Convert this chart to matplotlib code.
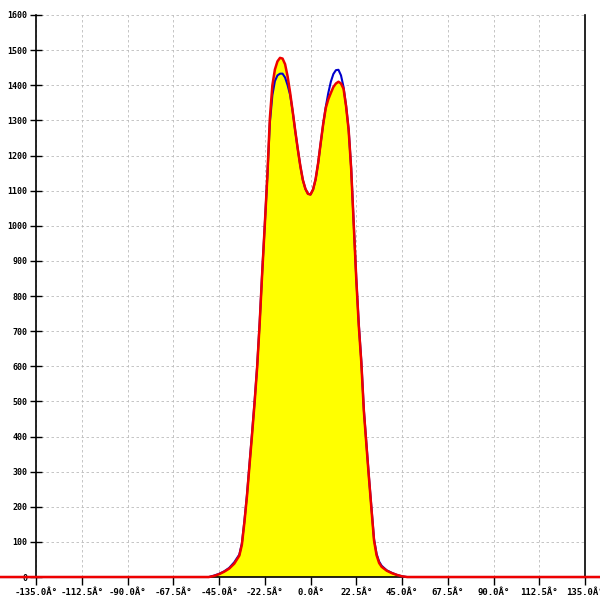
import matplotlib.pyplot as plt

# angle in degrees
angles = [-160, -50, -47.5, -45, -42.5, -40, -37.5,
          -35, -33.75, -32.5, -31.25, -30, -28.75, -27.5, -26.25, -25, -23.75,
          -22.5, -21.25, -20, -18.75, -17.5, -16.25, -15, -13.75, -12.5, -11.25,
          -10, -8.75, -7.5, -6.25, -5, -3.75, -2.5, -1.25, 0, 1.25,
          2.5, 3.75, 5, 6.25, 7.5, 8.75, 10, 11.25, 12.5, 13.75,
          15, 16.25, 17.5, 18.75, 20, 21.25, 22.5, 23.75, 25, 26.25,
          27.5, 28.75, 30, 31.25, 32.5, 33.75, 35,
          37.5, 40, 42.5, 45, 47.5, 50, 160]

blue_vals = [0, 0, 4, 9, 16, 26, 42,
             64, 96, 160, 234, 322, 410, 500, 600, 725, 870,
             1002, 1138, 1292, 1372, 1412, 1428, 1433, 1433, 1422, 1400,
             1372, 1325, 1270, 1218, 1170, 1130, 1105, 1091, 1089, 1103,
             1132, 1178, 1235, 1290, 1338, 1378, 1410, 1432, 1443, 1444,
             1428, 1395, 1342, 1275, 1165, 1008, 852, 720, 614, 476,
             380, 285, 196, 108, 66, 44, 32,
             19, 12, 6, 2, 0, 0, 0]

red_vals = [0, 0, 3, 8, 15, 24, 38,
            61, 92, 156, 230, 318, 405, 496, 596, 722, 866,
            1000, 1138, 1305, 1400, 1445, 1468, 1478, 1476, 1460, 1425,
            1378, 1325, 1270, 1218, 1170, 1130, 1105, 1091, 1089, 1103,
            1132, 1178, 1235, 1290, 1335, 1360, 1378, 1395, 1405, 1410,
            1405, 1390, 1340, 1273, 1162, 1005, 850, 715, 610, 472,
            376, 282, 192, 104, 62, 40, 29,
            18, 11, 6, 2, 0, 0, 0]

xticks = [-135, -112.5, -90, -67.5, -45, -22.5, 0, 22.5, 45, 67.5, 90, 112.5, 135]
xtick_labels = ["%.1f\u00c2\u00b0" % t for t in xticks]
yticks = list(range(0, 1700, 100))

fig = plt.figure(figsize=(6, 6), dpi=100)
ax = fig.add_axes([0.06, 0.0383, 0.915, 0.9367])

ax.fill_between(angles, red_vals, color='#ffff00', linewidth=0, zorder=1)
ax.plot(angles, blue_vals, color='#0000cc', linewidth=1.5, zorder=3, clip_on=False)
ax.plot(angles, red_vals, color='#ee0000', linewidth=1.8, zorder=4, clip_on=False)

ax.set_xlim(-135, 135)
ax.set_ylim(0, 1600)
ax.set_xticks(xticks)
ax.set_xticklabels(xtick_labels, fontfamily='DejaVu Sans Mono', fontsize=6.5,
                   fontweight='bold')
ax.set_yticks(yticks)
ax.set_yticklabels([str(v) for v in yticks], fontfamily='DejaVu Sans Mono',
                   fontsize=6, fontweight='bold')

ax.tick_params(axis='x', direction='out', length=6, width=1, pad=2)
ax.tick_params(axis='y', direction='inout', length=8, width=1, pad=2)

ax.grid(True, linestyle=(0, (3, 3)), linewidth=0.6, color='#bbbbbb', zorder=0)
ax.set_axisbelow(True)

ax.spines['top'].set_visible(False)
for side in ['left', 'right', 'bottom']:
    ax.spines[side].set_color('black')
    ax.spines[side].set_linewidth(1.2)

plt.savefig("out.png", dpi=100)
